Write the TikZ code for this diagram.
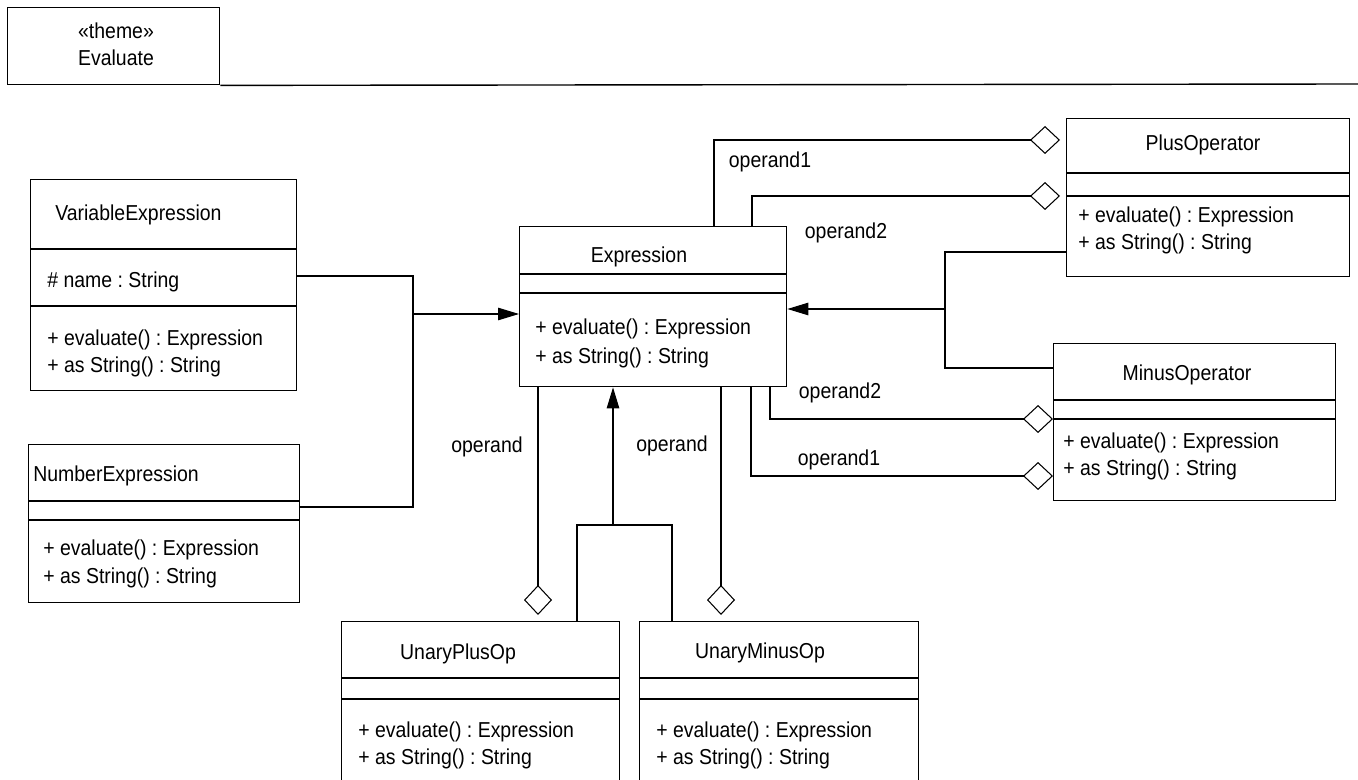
\documentclass[tikz,border=0pt]{standalone}
\usepackage{fontspec}
\setmainfont{Liberation Sans}[FakeStretch=0.9]
\usetikzlibrary{arrows.meta}
\frenchspacing

\tikzset{
  cls/.style={draw, line width=0.8pt, inner sep=0pt, anchor=north west},
  txt/.style={inner sep=0pt, anchor=base west},
  ttl/.style={inner sep=0pt, anchor=base},
  lbl/.style={inner sep=0pt},
  link/.style={line width=0.6pt},
  gen/.style={link, -{Triangle[length=0.42cm, width=0.25cm]}},
  agg/.style={link, -{Diamond[open, length=0.6cm, width=0.56cm]}, shorten >=0.12cm},
}

\begin{document}
\begin{tikzpicture}[x=0.02cm, y=-0.02cm, font=\fontsize{12.3}{15}\selectfont]
\useasboundingbox (0,0) rectangle (1358,780);
\clip (0,0) rectangle (1358,780);
% theme tab
\node[cls, minimum width=4.24cm, minimum height=1.54cm] (theme) at (7,7) {};
\node[ttl] (theme-s) at (116,39) {«theme»};
\node[ttl] (theme-n) at (116,66) {Evaluate};
\coordinate (rim) at (1358,84);
\draw[line width=0.8pt] (theme.south east) -- (rim);

% classes
\node[cls, minimum width=5.32cm, minimum height=4.22cm] (var) at (30,179) {};
\node[cls, minimum width=5.42cm, minimum height=3.16cm] (num) at (28,444) {};
\node[cls, minimum width=5.34cm, minimum height=3.2cm] (expr) at (519,226) {};
\node[cls, minimum width=5.66cm, minimum height=3.16cm] (plus) at (1066,118) {};
\node[cls, minimum width=5.64cm, minimum height=3.14cm] (minus) at (1053,343) {};
\node[cls, minimum width=5.56cm, minimum height=4cm] (uplus) at (341,621) {};
\node[cls, minimum width=5.58cm, minimum height=4cm] (uminus) at (639,621) {};

% compartments
\draw[line width=0.8pt] (var.west |- 0,249) -- (var.east |- 0,249);
\draw[line width=0.8pt] (var.west |- 0,306) -- (var.east |- 0,306);
\draw[line width=0.8pt] (num.west |- 0,501) -- (num.east |- 0,501);
\draw[line width=0.8pt] (num.west |- 0,520) -- (num.east |- 0,520);
\draw[line width=0.8pt] (expr.west |- 0,274) -- (expr.east |- 0,274);
\draw[line width=0.8pt] (expr.west |- 0,293) -- (expr.east |- 0,293);
\draw[line width=0.8pt] (plus.west |- 0,173) -- (plus.east |- 0,173);
\draw[line width=0.8pt] (plus.west |- 0,196) -- (plus.east |- 0,196);
\draw[line width=0.8pt] (minus.west |- 0,400) -- (minus.east |- 0,400);
\draw[line width=0.8pt] (minus.west |- 0,419) -- (minus.east |- 0,419);
\draw[line width=0.8pt] (uplus.west |- 0,678) -- (uplus.east |- 0,678);
\draw[line width=0.8pt] (uplus.west |- 0,699) -- (uplus.east |- 0,699);
\draw[line width=0.8pt] (uminus.west |- 0,678) -- (uminus.east |- 0,678);
\draw[line width=0.8pt] (uminus.west |- 0,699) -- (uminus.east |- 0,699);

% texts
\node[txt] (var-t) at (55,221) {VariableExpression};
\node[txt] (var-a) at (47,288) {\# name : String};
\node[txt] (var-m1) at (47,345) {+ evaluate() : Expression};
\node[txt] (var-m2) at (47,372) {+ as String() : String};
\node[txt] (num-t) at (33,481) {NumberExpression};
\node[txt] (num-m1) at (43,555) {+ evaluate() : Expression};
\node[txt] (num-m2) at (43,583) {+ as String() : String};
\node[ttl] (expr-t) at (639,263) {Expression};
\node[txt] (expr-m1) at (535,335) {+ evaluate() : Expression};
\node[txt] (expr-m2) at (535,363) {+ as String() : String};
\node[ttl] (plus-t) at (1203,151) {PlusOperator};
\node[txt] (plus-m1) at (1078,223) {+ evaluate() : Expression};
\node[txt] (plus-m2) at (1078,250) {+ as String() : String};
\node[ttl] (minus-t) at (1187,380) {MinusOperator};
\node[txt] (minus-m1) at (1063,448) {+ evaluate() : Expression};
\node[txt] (minus-m2) at (1063,475) {+ as String() : String};
\node[ttl] (uplus-t) at (458,659) {UnaryPlusOp};
\node[txt] (uplus-m1) at (358,737) {+ evaluate() : Expression};
\node[txt] (uplus-m2) at (358,764) {+ as String() : String};
\node[ttl] (uminus-t) at (760,658) {UnaryMinusOp};
\node[txt] (uminus-m1) at (656,737) {+ evaluate() : Expression};
\node[txt] (uminus-m2) at (656,764) {+ as String() : String};

% generalisations
\draw[link] (var.east |- 0,276) -| (413,507) -- (num.east |- 0,507);
\draw[gen] (413,314) -- (expr.west |- 0,314);
\draw[link] (plus.west |- 0,252) -| (945,368) -- (minus.west |- 0,368);
\draw[gen] (945,309) -- (expr.east |- 0,309);
\draw[link] (uplus.north -| 577,0) -- (577,525) -| (uminus.north -| 672,0);
\draw[gen] (613,525) -- (expr.south -| 613,0);

% aggregations
\draw[agg] (expr.north -| 714,0) |- (plus.west |- 0,140);
\draw[agg] (expr.north -| 752,0) |- (plus.west |- 0,196);
\draw[agg, shorten >=0pt] (expr.south -| 770,0) |- (minus.west |- 0,419);
\draw[agg, shorten >=0pt] (expr.south -| 751,0) |- (minus.west |- 0,476);
\draw[agg] (expr.south -| 538,0) -- (uplus.north -| 538,0);
\draw[agg] (expr.south -| 721,0) -- (uminus.north -| 721,0);

% role names
\node[lbl] (r-top1) at (770,162) {operand1};
\node[lbl] (r-top2) at (846,233) {operand2};
\node[lbl] (r-low2) at (840,393) {operand2};
\node[lbl] (r-low1) at (839,460) {operand1};
\node[lbl] (r-left) at (487,447) {operand};
\node[lbl] (r-right) at (672,446) {operand};
\end{tikzpicture}
\end{document}
